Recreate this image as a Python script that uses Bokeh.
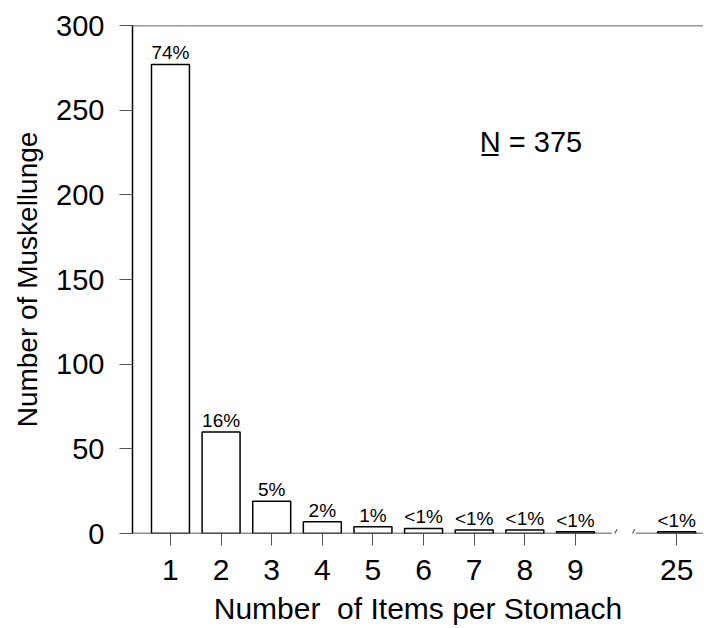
from bokeh.plotting import figure
from bokeh.models import FixedTicker, Span, Label, ColumnDataSource
from bokeh.core.properties import value
from bokeh.embed import file_html
from bokeh.resources import INLINE

# ---- data ----
items = [1, 2, 3, 4, 5, 6, 7, 8, 9, 25]
counts = [277, 60, 19, 7, 4, 3, 2, 2, 1, 1]
pct_labels = ["74%", "16%", "5%", "2%", "1%", "<1%", "<1%", "<1%", "<1%", "<1%"]
y_ticks = [0, 50, 100, 150, 200, 250, 300]
n_total = 375

# positions on the broken axis: 25 sits two slots after 9
pos = [it if it <= 9 else 11 for it in items]
tick_labels = {p_: str(it) for p_, it in zip(pos, items)}

FONT = "Liberation Sans"
X0, X1 = 0.25, 11.53

p = figure(width=703, height=627, output_backend="svg", toolbar_location=None,
           x_range=(X0, X1), y_range=(0, 300),
           min_border_left=132, min_border_top=25, min_border_right=0,
           min_border_bottom=92)
p.outline_line_color = None
p.grid.visible = False
p.background_fill_color = "white"

src = ColumnDataSource(dict(x=pos, top=counts, lab=pct_labels))
p.vbar(x="x", top="top", bottom=0, width=0.75, source=src,
       fill_color="white", line_color="black", line_width=1.5)
p.text(x="x", y="top", text="lab", source=src, text_align="center",
       text_baseline="bottom", y_offset=-1, text_font=value(FONT),
       text_font_size="19px", text_color="black")

# y axis
ya = p.yaxis[0]
ya.ticker = FixedTicker(ticks=y_ticks)
ya.axis_label = "Number of Muskellunge"
ya.axis_label_text_font = FONT
ya.axis_label_text_font_size = "28px"
ya.axis_label_text_font_style = "normal"
ya.axis_label_standoff = 10
ya.major_label_text_font = FONT
ya.major_label_text_font_size = "29px"
ya.major_label_standoff = 15
ya.major_tick_out = 13
ya.major_tick_in = 0
ya.minor_tick_out = 0
ya.minor_tick_in = 0
ya.axis_line_width = 1.5
ya.major_tick_line_color = "#555555"
ya.major_label_text_color = "black"
ya.axis_label_text_color = "black"

# x axis
xa = p.xaxis[0]
xa.ticker = FixedTicker(ticks=pos)
xa.major_label_overrides = tick_labels
xa.axis_label = "Number\u00a0\u00a0of Items per Stomach"
xa.axis_label_text_font = FONT
xa.axis_label_text_font_size = "30px"
xa.axis_label_text_font_style = "normal"
xa.axis_label_standoff = 9
xa.major_label_text_font = FONT
xa.major_label_text_font_size = "30px"
xa.major_label_standoff = 14
xa.major_tick_out = 12
xa.major_tick_in = 0
xa.minor_tick_out = 0
xa.minor_tick_in = 0
xa.axis_line_color = None
xa.major_tick_line_color = "#555555"
xa.major_label_text_color = "black"
xa.axis_label_text_color = "black"

# broken baseline
brk_a, brk_b = 9.72, 10.19
p.segment(x0=[X0, brk_b], y0=[0, 0], x1=[brk_a, X1], y1=[0, 0],
          line_color="#222222", line_width=1.5)
# break slashes
p.segment(x0=[brk_a + 0.02, brk_b - 0.1], y0=[-2.5, -2.5],
          x1=[brk_a + 0.1, brk_b - 0.02], y1=[2.5, 2.5],
          line_color="#555555", line_width=1.2)

# top border
p.add_layout(Span(location=300, dimension="width", line_color="#333333", line_width=1.5))

# N annotation
p.add_layout(Label(x=7.11, y=231, text="N\u0332 = %d" % n_total,
                   text_font=FONT, text_font_size="29px", text_color="black",
                   text_baseline="alphabetic"))

open("out.html", "w").write(file_html(p, INLINE))
